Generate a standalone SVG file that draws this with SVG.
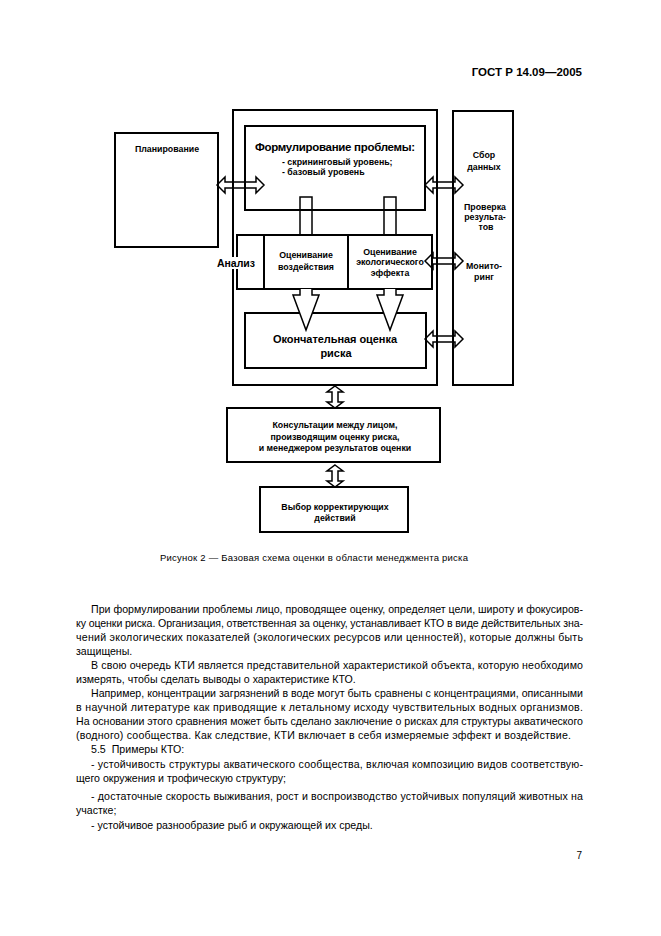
<svg xmlns="http://www.w3.org/2000/svg" width="661" height="936" viewBox="0 0 661 936">
<style>
.box{fill:none;stroke:#000;stroke-width:2}
.arr{fill:#fff;stroke:#000;stroke-width:1.5;stroke-linejoin:miter}
.t{font-family:"Liberation Sans",Arial,sans-serif;font-weight:bold;font-size:8.8px;fill:#000;text-anchor:middle}
.body{font-family:"Liberation Sans",Arial,sans-serif;font-size:10.6px;fill:#000}
</style>
<rect width="661" height="936" fill="#fff"/>
<text x="582" y="76" font-family="Liberation Sans, Arial, sans-serif" font-weight="bold" font-size="11.5" text-anchor="end">ГОСТ Р 14.09—2005</text>

<g id="connectors">
<path class="arr" d="M217,185 L225,177 L225,182 L256,182 L256,177 L264,185 L256,193 L256,188 L225,188 L225,193 Z"/>
<path class="arr" d="M425,185 L433,177 L433,182 L455,182 L455,177 L463,185 L455,193 L455,188 L433,188 L433,193 Z"/>
<path class="arr" d="M425,261 L433,253 L433,258 L455,258 L455,253 L463,261 L455,269 L455,264 L433,264 L433,269 Z"/>
<path class="arr" d="M425,339 L433,331 L433,336 L455,336 L455,331 L463,339 L455,347 L455,342 L433,342 L433,347 Z"/>
<rect class="arr" x="300" y="197" width="12" height="38"/>
<rect class="arr" x="384" y="197" width="12" height="38"/>
<path class="arr" d="M335,386 L343,392 L338,392 L338,402 L343,402 L335,408 L327,402 L332,402 L332,392 L327,392 Z"/>
<path class="arr" d="M335,465 L343,471 L338,471 L338,481 L343,481 L335,487 L327,481 L332,481 L332,471 L327,471 Z"/>
</g>

<g id="outer"><rect class="box" x="233" y="110" width="204" height="275"/></g>
<g id="planning"><rect class="box" x="115" y="133" width="103" height="114"/>
<text class="t" x="167" y="152">Планирование</text></g>
<g id="problem"><rect class="box" x="245" y="126" width="180" height="84"/>
<text class="t" x="335" y="151" style="font-size:11.5px" textLength="160" lengthAdjust="spacing">Формулирование проблемы:</text>
<text class="t" x="282" y="165" style="text-anchor:start">- скрининговый уровень;</text>
<text class="t" x="282" y="175" style="text-anchor:start">- базовый уровень</text></g>
<g id="column"><rect class="box" x="453" y="111" width="60" height="274"/>
<text class="t" x="484" y="158">Сбор</text>
<text class="t" x="484" y="170">данных</text>
<text class="t" x="485" y="210">Проверка</text>
<text class="t" x="485" y="220">результа-</text>
<text class="t" x="486" y="230">тов</text>
<text class="t" x="484" y="269">Монито-</text>
<text class="t" x="484" y="280">ринг</text></g>
<g id="analysis"><rect class="box" x="237" y="235" width="195" height="54"/>
<line class="box" x1="264" y1="235" x2="264" y2="289"/>
<line class="box" x1="348" y1="235" x2="348" y2="289"/>
<rect x="216" y="257" width="40" height="12" fill="#fff"/>
<text class="t" x="236" y="267" style="font-size:10.5px">Анализ</text>
<text class="t" x="306" y="258">Оценивание</text>
<text class="t" x="306" y="270">воздействия</text>
<text class="t" x="390" y="255">Оценивание</text>
<text class="t" x="390" y="265">экологического</text>
<text class="t" x="390" y="276">эффекта</text></g>
<g id="final"><rect class="box" x="245" y="313" width="181" height="55"/>
<text class="t" x="335" y="343" style="font-size:11px" textLength="124" lengthAdjust="spacing">Окончательная оценка</text>
<text class="t" x="336" y="357" style="font-size:11px">риска</text></g>
<g id="downarrows">
<path class="arr" d="M300,289 L300,295 L293,295 L306,330 L319,295 L312,295 L312,289"/>
<path class="arr" d="M384,289 L384,295 L377,295 L390,330 L403,295 L396,295 L396,289"/>
</g>
<g id="consult"><rect class="box" x="227" y="408" width="213" height="54"/>
<text class="t" x="335" y="428">Консультации между лицом,</text>
<text class="t" x="335" y="440">производящим оценку риска,</text>
<text class="t" x="335" y="451">и менеджером результатов оценки</text></g>
<g id="choice"><rect class="box" x="260" y="487" width="148" height="45"/>
<text class="t" x="335" y="510">Выбор корректирующих</text>
<text class="t" x="335" y="521">действий</text></g>

<text x="314" y="561" font-family="Liberation Sans, Arial, sans-serif" font-size="9.5" text-anchor="middle" textLength="308" lengthAdjust="spacing">Рисунок 2 — Базовая схема оценки в области менеджмента риска</text>

<g class="body">
<text x="91" y="613" textLength="492" lengthAdjust="spacing">При формулировании проблемы лицо, проводящее оценку, определяет цели, широту и фокусиров-</text>
<text x="76" y="627" textLength="507" lengthAdjust="spacing">ку оценки риска. Организация, ответственная за оценку, устанавливает КТО в виде действительных зна-</text>
<text x="76" y="641" textLength="507" lengthAdjust="spacing">чений экологических показателей (экологических ресурсов или ценностей), которые должны быть</text>
<text x="76" y="655">защищены.</text>
<text x="91" y="669" textLength="492" lengthAdjust="spacing">В свою очередь КТИ является представительной характеристикой объекта, которую необходимо</text>
<text x="76" y="683">измерять, чтобы сделать выводы о характеристике КТО.</text>
<text x="91" y="697" textLength="492" lengthAdjust="spacing">Например, концентрации загрязнений в воде могут быть сравнены с концентрациями, описанными</text>
<text x="76" y="711" textLength="507" lengthAdjust="spacing">в научной литературе как приводящие к летальному исходу чувствительных водных организмов.</text>
<text x="76" y="725" textLength="507" lengthAdjust="spacing">На основании этого сравнения может быть сделано заключение о рисках для структуры акватического</text>
<text x="76" y="739" textLength="495" lengthAdjust="spacing">(водного) сообщества. Как следствие, КТИ включает в себя измеряемые эффект и воздействие.</text>
<text x="91" y="753">5.5<tspan dx="6">Примеры КТО:</tspan></text>
<text x="91" y="768" textLength="492" lengthAdjust="spacing">- устойчивость структуры акватического сообщества, включая композицию видов соответствую-</text>
<text x="76" y="782">щего окружения и трофическую структуру;</text>
<text x="91" y="800" textLength="492" lengthAdjust="spacing">- достаточные скорость выживания, рост и воспроизводство устойчивых популяций животных на</text>
<text x="76" y="814">участке;</text>
<text x="91" y="829">- устойчивое разнообразие рыб и окружающей их среды.</text>
</g>
<text x="582" y="859" font-family="Liberation Sans, Arial, sans-serif" font-size="10" text-anchor="end">7</text>
</svg>
